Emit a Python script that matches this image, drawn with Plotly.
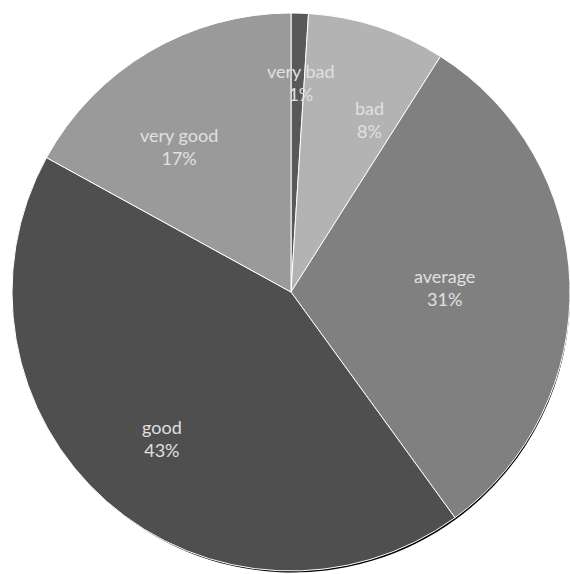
import math
import plotly.graph_objects as go

categories = ["very bad", "bad", "average", "good", "very good"]
values = [1, 8, 31, 43, 17]
colors = ["#595959", "#b3b3b3", "#808080", "#4f4f4f", "#9a9a9a"]
label_radius = [0.75, 0.68, 0.55, 0.70, 0.66]
label_angle_shift = [1, 6.5, 0, 0, -7]

W, H = 570, 574
# pie geometry in pixels
x0, x1 = 12, 570
y_top, y_bot = 13, 571

def dom_x(a, b):
    return [max(0, a / W), min(1, b / W)]

def dom_y(t, b):
    return [max(0, (H - b) / H), min(1, (H - t) / H)]

fig = go.Figure()
# shadow
fig.add_trace(go.Pie(
    values=values, labels=categories, sort=False, direction="clockwise", rotation=0,
    marker=dict(colors=["#000000"] * len(values), line=dict(width=0)),
    textinfo="none", hoverinfo="skip", showlegend=False,
    domain=dict(x=dom_x(x0 + 3, x1 + 3), y=dom_y(y_top + 3, y_bot + 3)),
))
fig.add_trace(go.Pie(
    values=values, labels=categories, sort=False, direction="clockwise", rotation=0,
    marker=dict(colors=colors, line=dict(color="#ffffff", width=1)),
    textinfo="none", showlegend=False,
    domain=dict(x=dom_x(x0, x1), y=dom_y(y_top, y_bot)),
))

cx = (x0 + x1) / 2
cy = (y_top + y_bot) / 2
R = min(x1 - x0, y_bot - y_top) / 2
total = sum(values)
cum = 0
for cat, v, f, s in zip(categories, values, label_radius, label_angle_shift):
    ang = math.radians((cum + v / 2) / total * 360 + s)
    cum += v
    px = cx + R * f * math.sin(ang)
    py = cy - R * f * math.cos(ang)
    fig.add_annotation(
        x=px / W, y=(H - py) / H, xref="paper", yref="paper",
        xanchor="center", yanchor="middle",
        text=f"{cat}<br>{round(v / total * 100)}%", showarrow=False,
        font=dict(family="Lato, Open Sans, sans-serif", size=18, color="#e0e0e0"),
        align="center",
    )

fig.update_layout(
    width=W, height=H, margin=dict(l=0, r=0, t=0, b=0),
    paper_bgcolor="white", plot_bgcolor="white",
)
fig.write_html("out.html")
